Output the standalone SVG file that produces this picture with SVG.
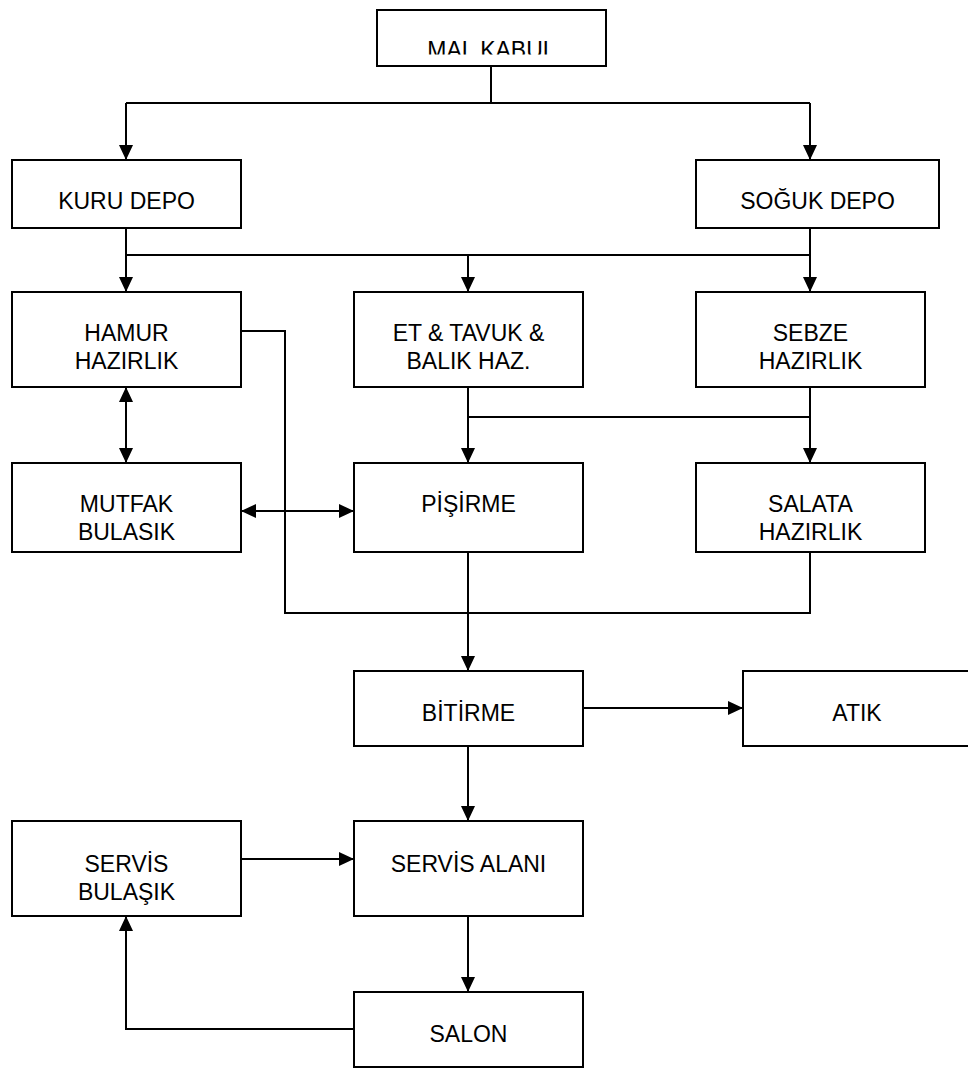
<svg xmlns="http://www.w3.org/2000/svg" width="968" height="1068" viewBox="0 0 968 1068">
<style>
.box{fill:#fff;stroke:#000;stroke-width:2}
.lbl{font-family:"Liberation Sans",Arial,sans-serif;font-size:23px;fill:#000;text-anchor:middle}
.c{fill:none;stroke:#000;stroke-width:2}
.a{marker-end:url(#ah)}
.d{marker-start:url(#ah);marker-end:url(#ah)}
</style>
<defs>
<marker id="ah" markerUnits="userSpaceOnUse" markerWidth="15" markerHeight="14" refX="15" refY="7" orient="auto-start-reverse">
<path d="M0,0 L15,7 L0,14 z" fill="#000"/>
</marker>
<clipPath id="clipMal"><rect x="377" y="10" width="229" height="44.5"/></clipPath>
</defs>
<rect width="968" height="1068" fill="#fff"/>
<g id="connectors">
<path class="c" d="M491,66 V103"/>
<path class="c" d="M126,103 H810"/>
<path class="c a" d="M126,103 V160"/>
<path class="c a" d="M810,103 V160"/>
<path class="c a" d="M126,228 V292"/>
<path class="c a" d="M810,228 V292"/>
<path class="c" d="M126,255 H810"/>
<path class="c a" d="M468,255 V292"/>
<path class="c a" d="M468,387 V463"/>
<path class="c a" d="M810,387 V463"/>
<path class="c" d="M468,417 H810"/>
<path class="c d" d="M126,387 V463"/>
<path class="c d" d="M241,511 H354"/>
<path class="c" d="M241,331 H285 V613 H810 V552"/>
<path class="c a" d="M468,552 V671"/>
<path class="c a" d="M583,708 H743"/>
<path class="c a" d="M468,746 V821"/>
<path class="c a" d="M241,859 H354"/>
<path class="c a" d="M468,916 V992"/>
<path class="c a" d="M354,1029 H126 V916"/>
</g>
<g id="mal-kabul"><rect class="box" x="377" y="10" width="229" height="56"/><text class="lbl" x="491.5" y="57.5" clip-path="url(#clipMal)">MAL KABUL</text></g>
<g id="kuru-depo"><rect class="box" x="12" y="160" width="229" height="68"/><text class="lbl" x="126.5" y="209">KURU DEPO</text></g>
<g id="soguk-depo"><rect class="box" x="696" y="160" width="243" height="68"/><text class="lbl" x="817.5" y="209">SOĞUK DEPO</text></g>
<g id="hamur"><rect class="box" x="12" y="292" width="229" height="95"/><text class="lbl" x="126.5" y="341">HAMUR</text><text class="lbl" x="126.5" y="369">HAZIRLIK</text></g>
<g id="et-tavuk"><rect class="box" x="354" y="292" width="229" height="95"/><text class="lbl" x="468.5" y="341">ET &amp; TAVUK &amp;</text><text class="lbl" x="468.5" y="369">BALIK HAZ.</text></g>
<g id="sebze"><rect class="box" x="696" y="292" width="229" height="95"/><text class="lbl" x="810.5" y="341">SEBZE</text><text class="lbl" x="810.5" y="369">HAZIRLIK</text></g>
<g id="mutfak"><rect class="box" x="12" y="463" width="229" height="89"/><text class="lbl" x="126.5" y="512">MUTFAK</text><text class="lbl" x="126.5" y="540">BULASIK</text></g>
<g id="pisirme"><rect class="box" x="354" y="463" width="229" height="89"/><text class="lbl" x="468.5" y="512">PİŞİRME</text></g>
<g id="salata"><rect class="box" x="696" y="463" width="229" height="89"/><text class="lbl" x="810.5" y="512">SALATA</text><text class="lbl" x="810.5" y="540">HAZIRLIK</text></g>
<g id="bitirme"><rect class="box" x="354" y="671" width="229" height="75"/><text class="lbl" x="468.5" y="721">BİTİRME</text></g>
<g id="atik"><rect class="box" x="743" y="671" width="229" height="75"/><text class="lbl" x="857" y="721">ATIK</text></g>
<g id="servis-bulasik"><rect class="box" x="12" y="821" width="229" height="95"/><text class="lbl" x="126.5" y="872">SERVİS</text><text class="lbl" x="126.5" y="900">BULAŞIK</text></g>
<g id="servis-alani"><rect class="box" x="354" y="821" width="229" height="95"/><text class="lbl" x="468.5" y="872">SERVİS ALANI</text></g>
<g id="salon"><rect class="box" x="354" y="992" width="229" height="75"/><text class="lbl" x="468.5" y="1042">SALON</text></g>
</svg>
